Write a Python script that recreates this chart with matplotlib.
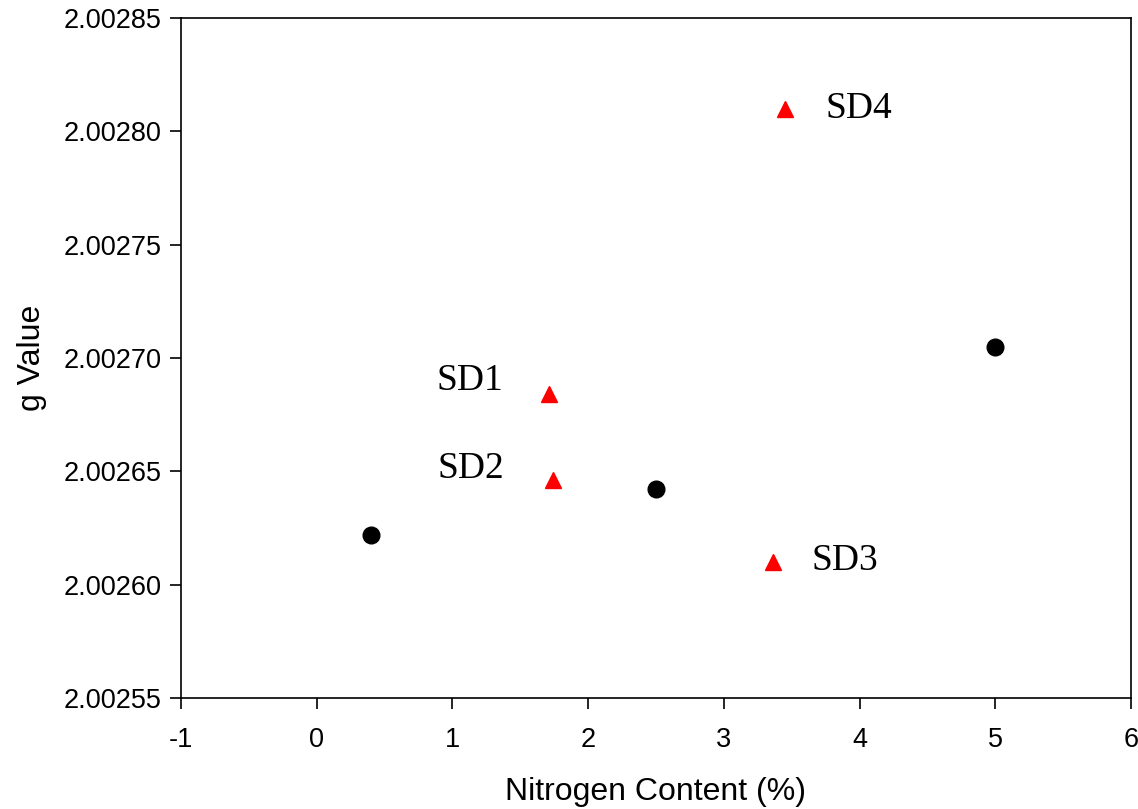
import matplotlib

matplotlib.use("Agg")

import matplotlib.pyplot as plt
from matplotlib.ticker import FormatStrFormatter

# black reference points
ref_n = [0.40, 2.50, 5.00]
ref_g = [2.002622, 2.002642, 2.002705]

# red samples SD1..SD4
sd_names = ["SD1", "SD2", "SD3", "SD4"]
sd_n = [1.71, 1.74, 3.36, 3.45]
sd_g = [2.002684, 2.002646, 2.002610, 2.002810]

x_ticks = [-1, 0, 1, 2, 3, 4, 5, 6]
y_ticks = [2.00255, 2.00260, 2.00265, 2.00270, 2.00275, 2.00280, 2.00285]


def main() -> None:
    plt.rcParams["font.family"] = ["Liberation Sans", "DejaVu Sans"]
    plt.rcParams["axes.unicode_minus"] = False

    fig = plt.figure(figsize=(11.38, 8.09), dpi=100)
    ax = fig.add_axes([0.159, 0.1372, 0.8348, 0.8406])

    ax.plot(ref_n, ref_g, "o", color="black", markersize=12, linestyle="none")
    ax.plot(sd_n, sd_g, "^", color="red", markersize=12, linestyle="none")

    # label offsets (pixels) of the text's left edge / centre from each triangle
    offsets = {"SD1": (-112, 14), "SD2": (-115, 12), "SD3": (39, 1), "SD4": (41, 0)}
    for name, xv, yv in zip(sd_names, sd_n, sd_g):
        dx, dy = offsets[name]
        ax.annotate(
            name,
            (xv, yv),
            xytext=(dx, dy),
            textcoords="offset pixels",
            fontsize=27,
            family=["Liberation Serif", "DejaVu Serif"],
            va="center",
            ha="left",
        )

    ax.set_xlim(-1, 6)
    ax.set_ylim(2.00255, 2.00285)
    ax.set_xticks(x_ticks)
    ax.set_yticks(y_ticks)
    ax.yaxis.set_major_formatter(FormatStrFormatter("%.5f"))
    ax.tick_params(direction="out", length=8, width=1.2, labelsize=19.5, top=False, right=False)
    ax.tick_params(axis="y", pad=6)
    ax.tick_params(axis="x", pad=13)
    for spine in ax.spines.values():
        spine.set_linewidth(1.2)

    ax.set_xlabel("Nitrogen Content (%)", fontsize=23, labelpad=17)
    ax.set_ylabel("g Value", fontsize=23, labelpad=12)

    fig.savefig("out.png", dpi=100)
    plt.close(fig)


if __name__ == "__main__":
    main()
